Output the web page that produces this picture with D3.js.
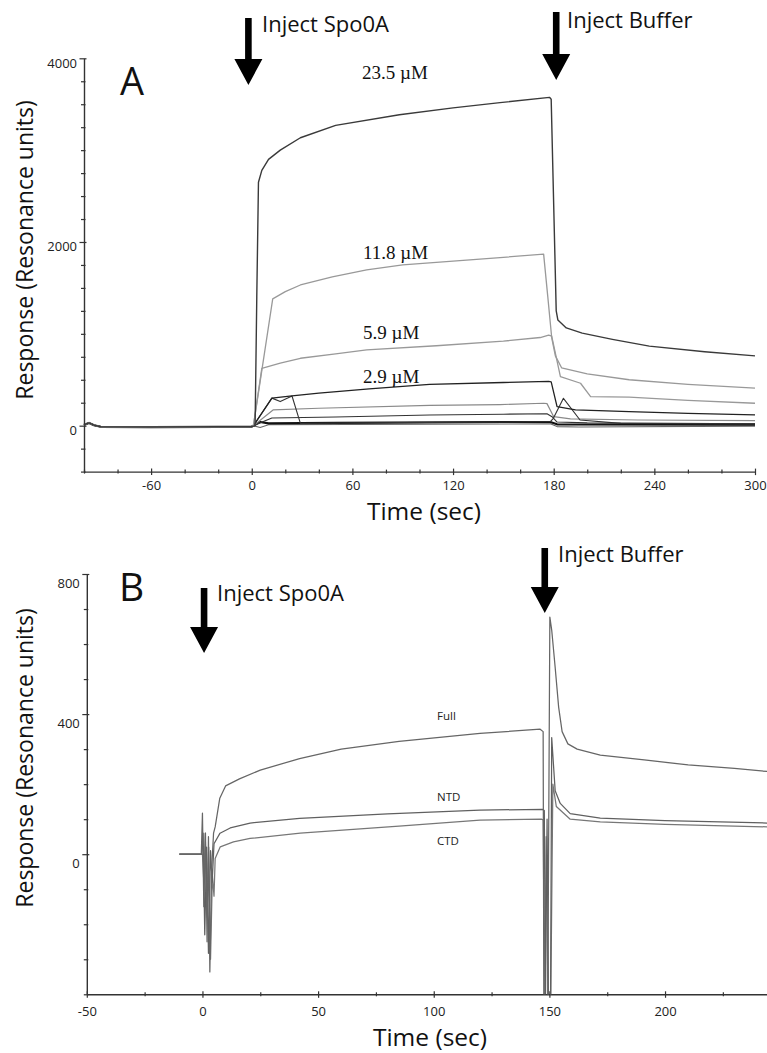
<!DOCTYPE html>
<html><head><meta charset="utf-8">
<script src="https://cdn.jsdelivr.net/npm/d3@7"></script>
<style>body{margin:0;background:#fff}svg{display:block}</style>
</head><body><svg id="c" width="767" height="1053"></svg>
<script>
// ---------------- DATA ----------------
// Panel A: sensorgrams, [time (s), response (RU)]
const aBaseline = [[-100,10],[-97,30],[-94,5],[-90,-12],[-60,-15],[-20,-12],[0,-10]];
const a23_5 = [[2,0],[3,1400],[4,2650],[6,2780],[10,2900],[17,3000],[29,3135],[50,3270],[88,3386],[120,3460],[148,3517],[177.5,3575],[178.5,3555],[181.5,1250],[182.5,1150],[187.5,1064],[197,1008],[215,940],[237,866],[270,805],[300,760]];
const a11_8 = [[1,0],[12.5,1380],[20,1460],[29,1532],[48,1620],[68.5,1697],[90,1750],[118,1788],[148,1830],[174,1868],[176.5,1400],[178.8,960],[181,760],[184.7,630],[200,565],[225,500],[260,450],[300,408]];
const a5_9 = [[1,0],[6,625],[17,680],[29,734],[50,782],[68.5,825],[110,870],[150,920],[172,960],[177,985],[178.8,975],[184,534],[196,462],[202,316],[225,310],[260,275],[300,244]];
const a2_9 = [[1,0],[12,300],[24,325],[40,355],[70,400],[106,450],[150,470],[177,482],[178.5,478],[182,207],[193,171],[225,153],[260,135],[300,117]];
const aLow1 = [[1,0],[12.7,171],[40,190],[106,220],[148,230],[174,244],[176,240],[180,98],[190,75],[230,62],[300,55]];
const aLow2 = [[1,0],[12,84],[50,95],[106,117],[150,125],[176,130],[179,98],[182,40],[200,30],[300,20]];
const aLow3 = [[1,0],[5,40],[10,25],[50,30],[150,40],[178,40],[182,15],[300,10]];
const aLow4 = [[1,0],[5,-20],[10,10],[178,20],[182,-10],[195,-15],[300,-5]];
const aSpike = [[1,0],[12,300],[17,262],[24,323],[29,25],[60,30],[150,40],[178,45],[179.8,80],[185.8,298],[195.7,62],[220,25],[300,20]];
const aConcLabels = ["23.5 µM","11.8 µM","5.9 µM","2.9 µM"];
const aXTicks = [-60,0,60,120,180,240,300];
const aYTicks = [0,2000,4000];

// Panel B
const bFull = [[-10,0],[-0.5,0],[0,117],[0.6,-150],[1.3,60],[2,-250],[2.6,50],[3.2,-336],[4,-40],[4.8,60],[5.5,78],[7.5,160],[10,195],[16,215],[25,240],[42,273],[60,300],[85,322],[120,345],[146,357],[147.3,350],[147.6,-420],[149.3,-420],[150.2,677],[151,640],[152.5,533],[154,420],[155.5,350],[158,315],[162,300],[172,283],[191,269],[210,255],[230,245],[244.3,236]];
const bNTD = [[-10,0],[-0.3,0],[0.3,60],[1,-230],[1.8,20],[2.6,-283],[3.5,10],[4.2,-80],[5,30],[7.6,60],[12,75],[20.6,89],[42,102],[80,115],[120,126],[147,128],[147.8,125],[148.3,-420],[149,100],[149.6,-420],[150.5,-420],[151,333],[152.5,181],[154.7,145],[159,116],[172,103],[200,96],[244.3,89]];
const bCTD = [[-10,0],[0,0],[0.6,-80],[1.2,60],[2,-180],[2.7,20],[3.5,-300],[4.3,-60],[5,-120],[5.5,-12],[7.7,21],[13.4,35],[20.6,45],[42.3,60],[85,80],[120,97],[146.5,100],[147.3,98],[147.9,-420],[148.6,50],[149.4,-420],[150.6,-420],[151.5,200],[153,136],[159,100],[172,92],[200,85],[244.3,78]];
const bLabels = ["Full","NTD","CTD"];
const bXTicks = [-50,0,50,100,150,200];
const bYTicks = [0,400,800];

// ---------------- DRAW ----------------
const svg = d3.select("#c");
svg.append("rect").attr("width",767).attr("height",1053).attr("fill","#fff");
const SANS = "'Open Sans', 'DejaVu Sans', sans-serif";
const SERIF = "'Liberation Serif', 'Times New Roman', serif";

const xA = d3.scaleLinear().domain([-100,300]).range([84,755]);
const yA = d3.scaleLinear().domain([-500,4000]).range([471.6,58.3]);
const xB = d3.scaleLinear().domain([-50,244.3]).range([86.8,767.5]);
const yB = d3.scaleLinear().domain([-400,800]).range([994.3,574]);

function drawAxes(x, y, xMajor, xMinorStep, yMajor, yMinorStep, yLabelDy, xLabelDy) {
  const [x0,x1] = x.domain(), [y0,y1] = y.domain();
  const xMinor = d3.range(Math.ceil(x0/xMinorStep)*xMinorStep, x1+1e-9, xMinorStep);
  const yMinor = d3.range(Math.ceil(y0/yMinorStep)*yMinorStep, y1+1e-9, yMinorStep);
  const g = svg.append("g");
  const gx = g.append("g").attr("transform",`translate(0,${y(y0)})`)
    .call(d3.axisBottom(x).tickValues(xMinor).tickSizeOuter(0).tickFormat(d => xMajor.includes(d) ? String(d) : ""));
  gx.selectAll(".tick line").attr("y1", d => xMajor.includes(d) ? -3 : -2).attr("y2", d => xMajor.includes(d) ? 3.5 : 2)
    .attr("stroke","#333").attr("stroke-width",1.2);
  gx.selectAll(".tick text").attr("y", xLabelDy).attr("dy",0).attr("font-family",SANS).attr("font-size",13).attr("fill","#222");
  gx.select(".domain").attr("stroke","#333").attr("stroke-width",1.4);
  const gy = g.append("g").attr("transform",`translate(${x(x0)},0)`)
    .call(d3.axisLeft(y).tickValues(yMinor).tickSizeOuter(0).tickFormat(d => yMajor.includes(d) ? String(d) : ""));
  gy.selectAll(".tick line").attr("x1", d => yMajor.includes(d) ? 2.5 : 1.5).attr("x2", d => yMajor.includes(d) ? -4.5 : -3)
    .attr("stroke","#333").attr("stroke-width",1.2);
  gy.selectAll(".tick text").attr("x",-7).attr("dy",0).attr("y", yLabelDy).attr("font-family",SANS).attr("font-size",13).attr("fill","#222");
  gy.select(".domain").attr("stroke","#333").attr("stroke-width",1.4);
}

drawAxes(xA, yA, aXTicks, 20, aYTicks, 250, 9, 18.5);
drawAxes(xB, yB, bXTicks, 25, bYTicks, 100, 13, 22);

svg.append("clipPath").attr("id","clipB").append("rect")
  .attr("x",xB(-50)).attr("y",yB(800)-5).attr("width",xB(244.3)-xB(-50)).attr("height",yB(-400)-yB(800)+5);

const lineA = d3.line().x(d=>xA(d[0])).y(d=>yA(d[1]));
const lineB = d3.line().x(d=>xB(d[0])).y(d=>yB(d[1]));

const aSeries = [
  {d:aLow4, c:"#666", w:1.1},
  {d:aLow3, c:"#111", w:2.2},
  {d:aLow2, c:"#333", w:1.1},
  {d:aLow1, c:"#8a8a8a", w:1.2},
  {d:aSpike, c:"#333", w:1.1},
  {d:a2_9, c:"#222", w:1.3},
  {d:a5_9, c:"#999", w:1.3},
  {d:a11_8, c:"#999", w:1.3},
  {d:a23_5, c:"#3a3a3a", w:1.4}
];
const gA = svg.append("g").attr("fill","none");
aSeries.forEach(s => {
  gA.append("path").datum(aBaseline.concat(s.d)).attr("d",lineA)
    .attr("stroke",s.c).attr("stroke-width",s.w).attr("stroke-linejoin","round");
});

const gB = svg.append("g").attr("fill","none").attr("clip-path","url(#clipB)");
[{d:bCTD,c:"#777"},{d:bNTD,c:"#606060"},{d:bFull,c:"#666"}].forEach(s => {
  gB.append("path").datum(s.d).attr("d",lineB).attr("stroke",s.c).attr("stroke-width",1.25).attr("stroke-linejoin","round");
});

const concPos = [[362,79],[363,259],[363,339],[363,383]];
aConcLabels.forEach((t,i) => {
  svg.append("text").attr("x",concPos[i][0]).attr("y",concPos[i][1]).text(t)
    .attr("font-family",SERIF).attr("font-size",19).attr("fill","#111");
});
const bLabPos = [[437,720],[437,801],[437,845]];
bLabels.forEach((t,i) => {
  svg.append("text").attr("x",bLabPos[i][0]).attr("y",bLabPos[i][1]).text(t)
    .attr("font-family",SANS).attr("font-size",11.5).attr("fill","#222");
});

svg.append("text").attr("x",120).attr("y",95).text("A").attr("font-family",SANS).attr("font-size",38).attr("fill","#111");
svg.append("text").attr("x",119).attr("y",601).text("B").attr("font-family",SANS).attr("font-size",39).attr("fill","#111");

function arrow(cx, top, tip) {
  const headH = 26, headW = 14, sw = 3.3;
  const p = `M${cx-sw},${top}L${cx+sw},${top}L${cx+sw},${tip-headH}L${cx+headW},${tip-headH}L${cx},${tip}L${cx-headW},${tip-headH}L${cx-sw},${tip-headH}Z`;
  svg.append("path").attr("d",p).attr("fill","#000");
}
arrow(xA(-2), 18, 85);
arrow(xA(181.5), 12, 80);
arrow(xB(0.7), 588, 653);
arrow(xB(148), 548, 613);

function label(x,y,t){ svg.append("text").attr("x",x).attr("y",y).text(t).attr("font-family",SANS).attr("font-size",22).attr("fill","#111"); }
label(262, 32, "Inject Spo0A");
label(567, 28, "Inject Buffer");
label(217, 601, "Inject Spo0A");
label(558, 562, "Inject Buffer");

function title(tr, t){ svg.append("text").attr("transform",tr).attr("text-anchor","middle").text(t)
  .attr("font-family",SANS).attr("font-size",23).attr("fill","#111"); }
title("translate(33,250) rotate(-90)", "Response (Resonance units)");
title("translate(33,758) rotate(-90)", "Response (Resonance units)");
svg.append("text").attr("x",424).attr("y",520).attr("text-anchor","middle")
  .text("Time (sec)").attr("font-family",SANS).attr("font-size",24.5).attr("fill","#111");
svg.append("text").attr("x",430).attr("y",1046).attr("text-anchor","middle")
  .text("Time (sec)").attr("font-family",SANS).attr("font-size",24.5).attr("fill","#111");
</script></body></html>
